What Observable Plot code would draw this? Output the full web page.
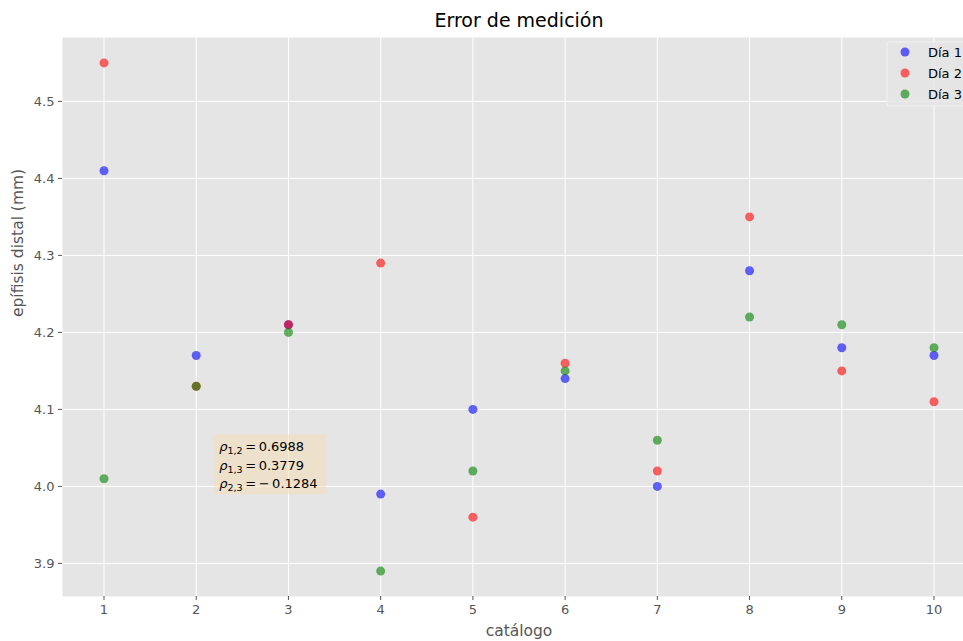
<!DOCTYPE html>
<html>
<head>
<meta charset="utf-8">
<script src="https://cdn.jsdelivr.net/npm/d3@7"></script>
<script src="https://cdn.jsdelivr.net/npm/@observablehq/plot@0.6"></script>
<style>
  html, body { margin: 0; padding: 0; background: #fff; overflow: hidden; }
  #chart { width: 963px; height: 641px; overflow: hidden; }
  #chart svg { font-family: "DejaVu Sans", sans-serif; max-width: none !important; }
</style>
</head>
<body>
<div id="chart"></div>
<script>
const catalogo = [1, 2, 3, 4, 5, 6, 7, 8, 9, 10];
const dia1 = [4.41, 4.17, 4.21, 3.99, 4.10, 4.14, 4.00, 4.28, 4.18, 4.17];
const dia2 = [4.55, 4.13, 4.21, 4.29, 3.96, 4.16, 4.02, 4.35, 4.15, 4.11];
const dia3 = [4.01, 4.13, 4.20, 3.89, 4.02, 4.15, 4.06, 4.22, 4.21, 4.18];
const seriesNames = ["Día 1", "Día 2", "Día 3"];
const seriesColors = ["blue", "red", "green"];
const xTicks = [1, 2, 3, 4, 5, 6, 7, 8, 9, 10];
const yTicks = [3.9, 4.0, 4.1, 4.2, 4.3, 4.4, 4.5];
const title = "Error de medición";
const xLabel = "catálogo";
const yLabel = "epífisis distal (mm)";
const rhoPairs = ["1,2", "1,3", "2,3"];
const rhoTexts = ["0.6988", "0.3779", "\u2212\u20090.1284"];
const annotX = 2.2, annotY = 4.067;

const all = [dia1, dia2, dia3];
const data = [];
all.forEach((vals, si) => vals.forEach((v, i) => data.push({x: catalogo[i], y: v, s: seriesNames[si]})));

const plot = Plot.plot({
  width: 975,
  height: 641,
  marginLeft: 62,
  marginRight: 0,
  marginTop: 37,
  marginBottom: 45,
  style: {maxWidth: "none", fontFamily: "DejaVu Sans, sans-serif"},
  x: {domain: [0.55, 10.45]},
  y: {domain: [3.857, 4.583]},
  color: {domain: seriesNames, range: seriesColors},
  marks: [
    Plot.frame({fill: "#E5E5E5", stroke: null}),
    Plot.gridX(xTicks, {stroke: "white", strokeOpacity: 1, strokeWidth: 1}),
    Plot.gridY(yTicks, {stroke: "white", strokeOpacity: 1, strokeWidth: 1}),
    Plot.axisX(xTicks, {tickSize: 4, tickPadding: 4, fontSize: 13, fill: "#555", stroke: "#555", label: null, tickFormat: d => String(d)}),
    Plot.axisY(yTicks, {tickSize: 4, tickPadding: 4, fontSize: 13, fill: "#555", stroke: "#555", label: null, tickFormat: d3.format(".1f")}),
    Plot.dot(data, {x: "x", y: "y", fill: "s", fillOpacity: 0.6, r: 4.5, stroke: null}),
    Plot.text([title], {frameAnchor: "top", lineAnchor: "middle", dy: -17, fontSize: 19, fill: "#000", text: d => d}),
    Plot.text([xLabel], {frameAnchor: "bottom", lineAnchor: "middle", dy: 35, fontSize: 15.5, fill: "#555", text: d => d}),
    Plot.text([yLabel], {frameAnchor: "left", lineAnchor: "middle", dx: -44, rotate: -90, fontSize: 15.5, fill: "#555", text: d => d})
  ]
});
document.getElementById("chart").appendChild(plot);

const svg = d3.select(plot);
const sx = plot.scale("x"), sy = plot.scale("y");

// annotation box
const ax = sx.apply(annotX), ay = sy.apply(annotY);
const g = svg.append("g").attr("transform", `translate(${ax},${ay})`).attr("text-anchor", "start");
g.append("rect").attr("width", 112).attr("height", 60).attr("fill", "wheat").attr("fill-opacity", 0.5);
rhoPairs.forEach((p, i) => {
  const t = g.append("text").attr("x", 5).attr("y", 17 + i * 18.5).attr("font-size", 13).attr("fill", "#000");
  t.append("tspan").attr("font-style", "italic").text("ρ");
  t.append("tspan").attr("font-size", 9.5).attr("dy", 3).text(p);
  t.append("tspan").attr("dy", -3).text("\u2009=\u2009" + rhoTexts[i]);
});

// legend
const lg = svg.append("g").attr("transform", "translate(887,42)").attr("text-anchor", "start");
lg.append("rect").attr("width", 90).attr("height", 64).attr("rx", 2).attr("fill", "#E5E5E5").attr("fill-opacity", 0.8).attr("stroke", "#f2f2f2");
seriesNames.forEach((s, i) => {
  lg.append("circle").attr("cx", 18).attr("cy", 10 + i * 21).attr("r", 4.5).attr("fill", seriesColors[i]).attr("fill-opacity", 0.6);
  lg.append("text").attr("x", 41).attr("y", 10 + i * 21).attr("dy", "0.35em").attr("font-size", 13).attr("fill", "#000").text(s);
});
</script>
</body>
</html>
